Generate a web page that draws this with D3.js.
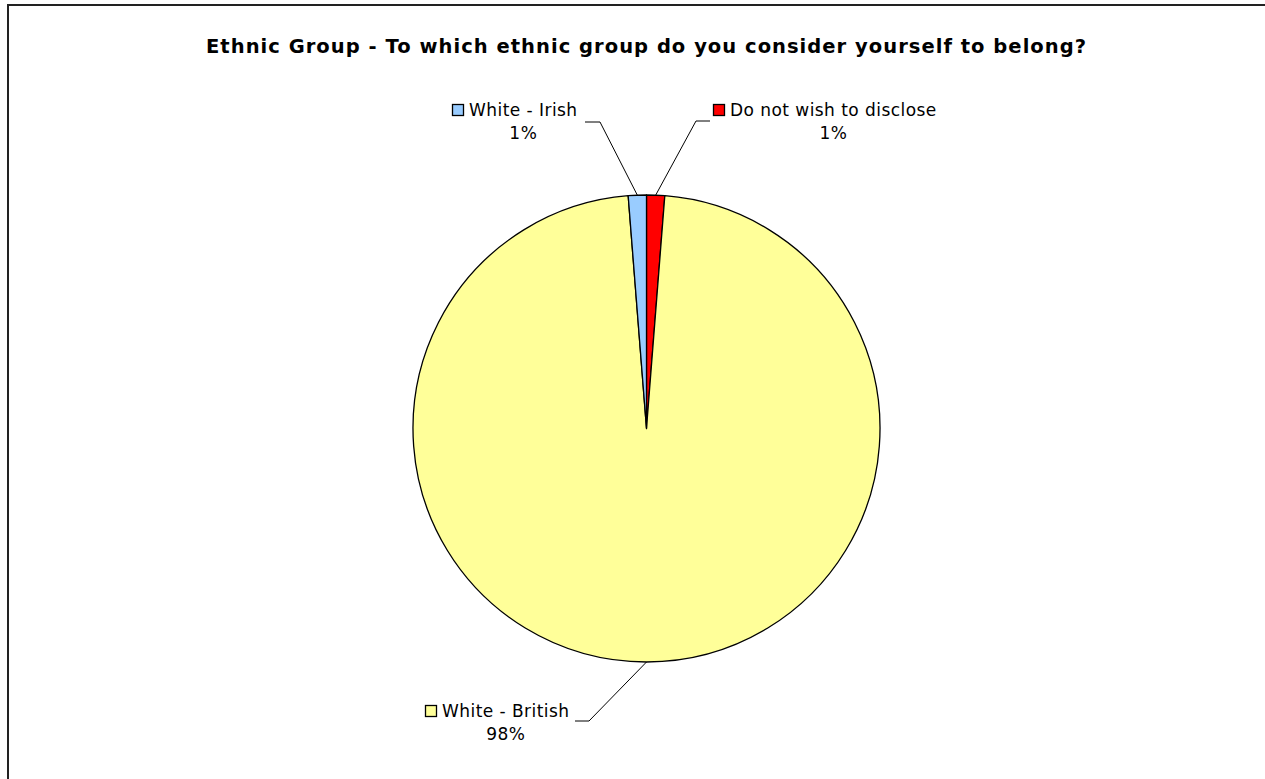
<!DOCTYPE html>
<html>
<head>
<meta charset="utf-8">
<script src="https://cdn.jsdelivr.net/npm/d3@7"></script>
<style>
  html, body { margin: 0; padding: 0; background: #fff; }
  svg { display: block; }
</style>
</head>
<body>
<svg id="chart" width="1265" height="779"></svg>
<script>
// ---- data ----
const title = "Ethnic Group - To which ethnic group do you consider yourself to belong?";
const categories = ["Do not wish to disclose", "White - British", "White - Irish"];
const values = [1.25, 97.5, 1.25];           // percent shares
const colors = ["#FF0000", "#FFFF99", "#99CCFF"];

// ---- layout ----
const W = 1265, H = 779;
const cx = 646.5, cy = 428.5, R = 233.5;
const font = "'DejaVu Sans', Verdana, sans-serif";
// label placement per category: key box position, leader elbow and end
const labelLayout = [
  { keyX: 713, keyY: 104, elbow: [696, 121], end: [710, 121] },
  { keyX: 425, keyY: 705, elbow: [589, 721], end: [575, 721] },
  { keyX: 452, keyY: 104, elbow: [600, 122], end: [585, 122] }
];

const svg = d3.select("#chart");

// border
svg.append("rect")
  .attr("x", 8).attr("y", 5)
  .attr("width", W + 40).attr("height", H + 40)
  .attr("fill", "none").attr("stroke", "#222").attr("stroke-width", 2);

// title
svg.append("text")
  .attr("x", 646).attr("y", 53)
  .attr("text-anchor", "middle")
  .attr("font-family", font).attr("font-weight", "bold")
  .attr("font-size", 19.5)
  .attr("textLength", 880)
  .attr("lengthAdjust", "spacing")
  .attr("fill", "#000")
  .text(title);

const data = categories.map((c, i) => ({ name: c, value: values[i], color: colors[i], layout: labelLayout[i] }));

const pie = d3.pie().sort(null).value(d => d.value).startAngle(0).endAngle(2 * Math.PI);
const arcs = pie(data);
const arc = d3.arc().innerRadius(0).outerRadius(R);
const edgeArc = d3.arc().innerRadius(R).outerRadius(R);

const g = svg.append("g").attr("transform", `translate(${cx},${cy})`);

g.selectAll("path.slice")
  .data(arcs)
  .join("path")
  .attr("class", "slice")
  .attr("d", arc)
  .attr("fill", d => d.data.color)
  .attr("stroke", "#000")
  .attr("stroke-width", 1.3)
  .attr("stroke-linejoin", "round");

// leader lines
arcs.forEach(a => {
  const [ex, ey] = edgeArc.centroid(a);
  const L = a.data.layout;
  svg.append("polyline")
    .attr("points", [[cx + ex, cy + ey], L.elbow, L.end].map(p => p.join(",")).join(" "))
    .attr("fill", "none").attr("stroke", "#000").attr("stroke-width", 1);
});

// labels
const fs = 17;
arcs.forEach(a => {
  const L = a.data.layout;
  svg.append("rect")
    .attr("x", L.keyX + 0.5).attr("y", L.keyY + 0.5)
    .attr("width", 11).attr("height", 11)
    .attr("fill", a.data.color).attr("stroke", "#000").attr("stroke-width", 1.3);
  const tx = L.keyX + 17;
  const t = svg.append("text")
    .attr("x", tx).attr("y", L.keyY + 12)
    .attr("font-family", font).attr("font-size", fs)
    .attr("letter-spacing", 0.45)
    .attr("fill", "#000")
    .text(a.data.name);
  const w = t.node().getComputedTextLength();
  svg.append("text")
    .attr("x", tx + w / 2).attr("y", L.keyY + 35)
    .attr("text-anchor", "middle")
    .attr("font-family", font).attr("font-size", fs)
    .attr("letter-spacing", 0.45)
    .attr("fill", "#000")
    .text(Math.round(a.data.value) + "%");
});
</script>
</body>
</html>
